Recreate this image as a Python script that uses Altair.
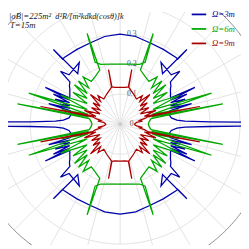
import altair as alt
import pandas as pd

# ---------------- data (first quadrant, theta in degrees from +x, r) ----------------
# curves are symmetric about both axes; the other quadrants are mirrored copies
blue_theta = [90, 80, 70, 60, 50, 48.5, 48.2, 50, 56.5, 44, 41.6, 40, 37, 35, 32, 29, 27.5, 26.2, 25.5, 24.2, 23, 21, 20, 18.4, 17.5, 16, 15, 12.4, 7, 4, 2.6, 1.5, 1.0, 0.8, 0]
blue_r     = [0.300, 0.297, 0.289, 0.288, 0.290, 0.290, 0.334, 0.220, 0.247, 0.237, 0.266, 0.219, 0.212, 0.205, 0.198, 0.192, 0.190, 0.278, 0.187, 0.244, 0.183, 0.232, 0.179, 0.212, 0.176, 0.248, 0.172, 0.165, 0.172, 0.190, 0.216, 0.300, 0.400, 0.500, 0.500]

green_theta = [90, 80, 72, 68, 70, 69.4, 62, 56, 52, 49, 46, 43, 40.7, 38, 34, 32, 26, 24, 18.8, 17, 14, 13, 11.2, 10, 5, 0]
green_r     = [0.200, 0.203, 0.210, 0.223, 0.322, 0.193, 0.179, 0.172, 0.200, 0.160, 0.200, 0.150, 0.201, 0.140, 0.190, 0.130, 0.220, 0.120, 0.322, 0.112, 0.200, 0.108, 0.349, 0.105, 0.097, 0.094]

red_theta = [90, 82, 77.5, 78, 77, 66, 57, 52, 49, 45, 42, 38, 35, 30, 27, 21, 18, 16.5, 12.5, 15, 13, 11, 8, 6, 3, 0]
red_r     = [0.123, 0.124, 0.127, 0.186, 0.127, 0.110, 0.100, 0.120, 0.100, 0.140, 0.090, 0.115, 0.082, 0.110, 0.076, 0.128, 0.085, 0.104, 0.272, 0.095, 0.085, 0.066, 0.075, 0.055, 0.050, 0.048]

series_labels = ["Ω=3m", "Ω=6m", "Ω=9m"]
series_colors = ["#0000aa", "#00a800", "#aa0000"]
radial_ticks = [0, 0.1, 0.2, 0.3]
grid_radii = [0.1, 0.2, 0.3, 0.4]
outer_radius = [0.5]
spoke_step = 15

# ---------------- build closed curves by mirroring ----------------
def full_curve(th, r):
    q1 = list(zip(th, r))
    pts = [(t, v) for t, v in q1]
    pts += [(-t, v) for t, v in reversed(q1)]
    pts += [(-180 + t, v) for t, v in q1]
    pts += [(180 - t, v) for t, v in reversed(q1)]
    return pts

rows = []
for lab, th, rr in zip(series_labels, [blue_theta, green_theta, red_theta], [blue_r, green_r, red_r]):
    for i, (t, v) in enumerate(full_curve(th, rr)):
        rows.append({"series": lab, "order": i, "theta": t, "r": v})
curves = pd.DataFrame(rows)

W = H = 241
SCALE = 310.0
CX = CY = 116
xdom = [-CX / SCALE, (W - CX) / SCALE]
ydom = [-(H - CY) / SCALE, CY / SCALE]
xs = alt.Scale(domain=xdom, nice=False, zero=False)
ys = alt.Scale(domain=ydom, nice=False, zero=False)

def X(f):
    return alt.X(f, type="quantitative", scale=xs, axis=None)

def Y(f):
    return alt.Y(f, type="quantitative", scale=ys, axis=None)

circ = (
    alt.Chart(pd.DataFrame({"rr": grid_radii}))
    .transform_calculate(a="sequence(0, 362, 2)")
    .transform_flatten(["a"])
    .transform_calculate(x="datum.rr*cos(datum.a*PI/180)", y="datum.rr*sin(datum.a*PI/180)")
    .mark_line(clip=True, stroke="#e2e2e2", strokeWidth=1)
    .encode(x=X("x"), y=Y("y"), detail="rr:N", order="a:Q")
)
outer = (
    alt.Chart(pd.DataFrame({"rr": outer_radius}))
    .transform_calculate(a="sequence(0, 362, 1)")
    .transform_flatten(["a"])
    .transform_calculate(x="datum.rr*cos(datum.a*PI/180)", y="datum.rr*sin(datum.a*PI/180)")
    .mark_line(clip=True, stroke="#8a8a8a", strokeWidth=1)
    .encode(x=X("x"), y=Y("y"), detail="rr:N", order="a:Q")
)
spokes = (
    alt.Chart(alt.sequence(0, 360, spoke_step, as_="a"))
    .transform_calculate(
        x0="0", y0="0",
        x1="0.5*cos(datum.a*PI/180)", y1="0.5*sin(datum.a*PI/180)",
    )
    .mark_rule(clip=True, stroke="#e2e2e2", strokeWidth=1)
    .encode(x=X("x0"), y=Y("y0"), x2="x1:Q", y2="y1:Q")
)
center_dot = (
    alt.Chart(pd.DataFrame({"t": [0]}))
    .mark_point(filled=True, color="#bbbbbb", size=12)
    .encode(x=X("t"), y=Y("t"))
)
rlabels = (
    alt.Chart(pd.DataFrame({"t": radial_ticks}))
    .transform_calculate(z="0")
    .mark_text(dx=12, align="center", baseline="middle", font="Liberation Serif", fontSize=8, color="#555555")
    .encode(x=X("z"), y=Y("t"), text=alt.Text("t:Q", format=".1~f"))
)

lines = (
    alt.Chart(curves)
    .transform_calculate(x="datum.r*cos(datum.theta*PI/180)", y="datum.r*sin(datum.theta*PI/180)")
    .mark_line(clip=True, strokeWidth=1.3)
    .encode(
        x=X("x"), y=Y("y"),
        color=alt.Color("series:N", scale=alt.Scale(domain=series_labels, range=series_colors), legend=None),
        detail="series:N",
        order="order:Q",
    )
)

tfont = dict(font="Liberation Serif", fontStyle="italic", fontSize=9, color="#222222", baseline="middle", align="left")
texts = [
    alt.Chart(pd.DataFrame({"s": ["|σB|=225m²"]})).mark_text(**tfont).encode(x=alt.value(1), y=alt.value(4), text="s:N"),
    alt.Chart(pd.DataFrame({"s": ["T=15m"]})).mark_text(**tfont).encode(x=alt.value(2), y=alt.value(14), text="s:N"),
    alt.Chart(pd.DataFrame({"s": ["d²R/[m²kdkd(cosθ)]k"]})).mark_text(**dict(tfont, fontSize=8.5)).encode(x=alt.value(49), y=alt.value(4), text="s:N"),
]

legend = []
for i, (lab, col) in enumerate(zip(series_labels, series_colors)):
    yy = 2.5 + 15 * i
    legend.append(
        alt.Chart(pd.DataFrame({"s": [lab]})).mark_rule(color=col, strokeWidth=1.8)
        .encode(x=alt.value(190), x2=alt.value(205), y=alt.value(yy))
    )
    legend.append(
        alt.Chart(pd.DataFrame({"s": [lab]})).mark_text(font="Liberation Serif", fontStyle="italic", fontSize=9,
                                                        color=col, align="left", baseline="middle")
        .encode(x=alt.value(211), y=alt.value(yy), text="s:N")
    )

chart = (
    alt.layer(circ, spokes, outer, center_dot, rlabels, lines, *texts, *legend)
    .properties(width=W, height=H, padding=0, autosize="none")
    .configure_view(stroke=None)
)

chart.save("out.html", embed_options={"renderer": "svg", "actions": False})
